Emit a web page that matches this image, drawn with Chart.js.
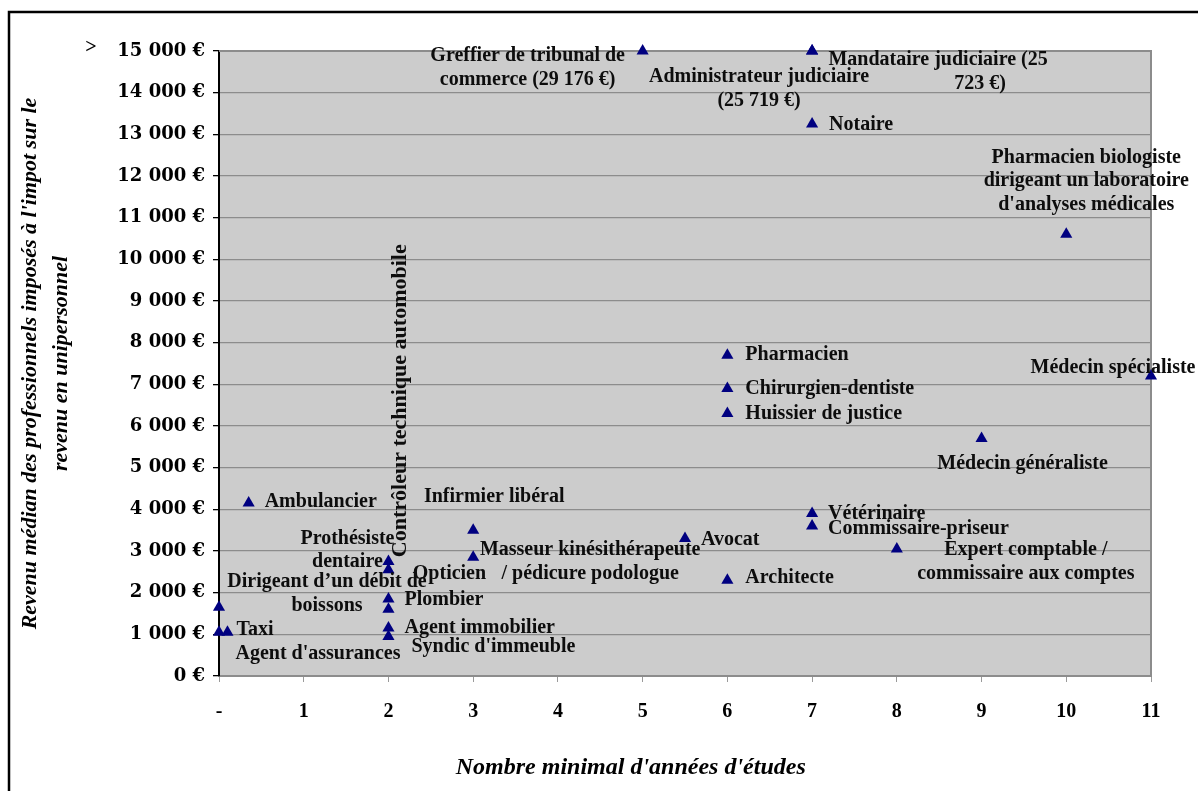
<!DOCTYPE html>
<html lang="fr">
<head>
<meta charset="utf-8">
<title>Revenu médian et années d'études</title>
<script src="https://cdn.jsdelivr.net/npm/chart.js@4.4.1/dist/chart.umd.min.js"></script>
<style>
  html, body { margin: 0; padding: 0; background: #fff; }
  canvas { display: block; }
</style>
</head>
<body>
<canvas id="chart" width="1198" height="791"></canvas>
<script>
// Professions (line breaks where the label wraps)
const professions = [
  "Greffier de tribunal de commerce",
  "Administrateur judiciaire",
  "Mandataire judiciaire",
  "Notaire",
  "Pharmacien biologiste\ndirigeant un laboratoire\nd'analyses médicales",
  "Médecin spécialiste",
  "Pharmacien",
  "Chirurgien-dentiste",
  "Huissier de justice",
  "Médecin généraliste",
  "Ambulancier",
  "Infirmier libéral",
  "Vétérinaire",
  "Commissaire-priseur",
  "Avocat",
  "Expert comptable /\ncommissaire aux comptes",
  "Masseur kinésithérapeute\n/ pédicure podologue",
  "Prothésiste\ndentaire",
  "Contrôleur technique automobile",
  "Opticien",
  "Plombier",
  "Architecte",
  "Dirigeant d’un débit de\nboissons",
  "Taxi",
  "Agent immobilier",
  "Syndic d'immeuble",
  "Agent d'assurances"
];

// Minimum number of years of study
const studyYears = [5, 7, 7, 7, 10, 11, 6, 6, 6, 9, 0.35, 3, 7, 7, 5.5, 8, 3, 2, 2, 2, 2, 6, 0, 0.1, 2, 2, 0];

// Median income (€)
const medianIncome = [29176, 25719, 25723, 13250, 10600, 7200, 7700, 6900, 6300, 5700, 4150, 3500, 3900, 3600,
                      3300, 3050, 2850, 2750, 2550, 1850, 1600, 2300, 1650, 1050, 1150, 950, 1050];

// Axis ranges and tick labels
const yCap = 15000;
const yStep = 1000;
const xMax = 11;
const xTickLabels = ["-", "1", "2", "3", "4", "5", "6", "7", "8", "9", "10", "11"];

// Label placement around each point (pixel offsets, alignment, wrapping)
const labelPlacement = [
  { dx: -115, dy: 5,   align: "center", wrap: 23 },
  { dx: -53,  dy: 26,  align: "center", wrap: 26 },
  { dx: 126,  dy: 9,   align: "center", wrap: 25, lineDx: [0, 42] },
  { dx: 17,   dy: 1,   align: "left" },
  { dx: 20,   dy: -77, align: "center" },
  { dx: -38,  dy: -8,  align: "center" },
  { dx: 18,   dy: 0,   align: "left" },
  { dx: 18,   dy: 0,   align: "left" },
  { dx: 18,   dy: 0,   align: "left" },
  { dx: 41,   dy: 25,  align: "center" },
  { dx: 16,   dy: -1,  align: "left" },
  { dx: 21,   dy: -33, align: "center" },
  { dx: 16,   dy: 0,   align: "left" },
  { dx: 16,   dy: 3,   align: "left" },
  { dx: 16,   dy: 1,   align: "left" },
  { dx: 129,  dy: 1,   align: "center" },
  { dx: 117,  dy: -7,  align: "center" },
  { dx: -41,  dy: -23, align: "center" },
  { dx: 12,   dy: -169, align: "center", vertical: true, size: 22 },
  { dx: 61,   dy: -25, align: "center" },
  { dx: 16,   dy: -10, align: "left" },
  { dx: 18,   dy: -2,  align: "left" },
  { dx: 108,  dy: -25, align: "center" },
  { dx: 9,    dy: -2,  align: "left" },
  { dx: 16,   dy: 0,   align: "left" },
  { dx: 23,   dy: 10,  align: "left" },
  { dx: 99,   dy: 22,  align: "center" }
];

const SERIF = '"Liberation Serif", "Times New Roman", serif';
const TITLE_FONT = { family: SERIF, size: 22, weight: "bold", style: "italic" };

function euro(v) {
  return String(v).replace(/\B(?=(\d{3})+(?!\d))/g, " ") + " €";
}

// Label text; values above the axis cap are written out in the label
function labelLines(i) {
  let text = professions[i];
  if (medianIncome[i] > yCap) text += " (" + euro(medianIncome[i]) + ")";
  const p = labelPlacement[i];
  if (p.wrap) return [text.slice(0, p.wrap).trim(), text.slice(p.wrap).trim()];
  return text.split("\n");
}

const points = studyYears.map((x, i) => ({ x: x, y: Math.min(medianIncome[i], yCap) }));

// Page frame, grey plot area
const backgroundPlugin = {
  id: "background",
  beforeDraw(chart) {
    const { ctx, chartArea: a } = chart;
    ctx.save();
    ctx.fillStyle = "#ffffff";
    ctx.fillRect(0, 0, chart.width, chart.height);
    ctx.strokeStyle = "#000000";
    ctx.lineWidth = 2.5;
    ctx.strokeRect(9, 12, chart.width + 40, chart.height + 40);
    ctx.fillStyle = "#cccccc";
    ctx.fillRect(a.left, a.top, a.right - a.left, a.bottom - a.top);
    ctx.restore();
  },
  beforeDatasetsDraw(chart) {
    const { ctx, chartArea: a } = chart;
    ctx.save();
    ctx.strokeStyle = "#8c8c8c";
    ctx.lineWidth = 2;
    ctx.beginPath();
    ctx.moveTo(a.left, a.top);
    ctx.lineTo(a.right, a.top);
    ctx.lineTo(a.right, a.bottom);
    ctx.stroke();
    ctx.restore();
  }
};

// Profession labels next to the markers, plus axis decorations
const labelsPlugin = {
  id: "professionLabels",
  afterDatasetsDraw(chart) {
    const ctx = chart.ctx;
    const meta = chart.getDatasetMeta(0);
    ctx.save();
    ctx.fillStyle = "#0d0d0d";
    ctx.textBaseline = "middle";
    const lh = 23.5;
    meta.data.forEach((pt, i) => {
      const p = labelPlacement[i];
      const lines = labelLines(i);
      const x = pt.x + p.dx;
      const y = pt.y + p.dy;
      ctx.font = "bold " + (p.size || 20) + "px " + SERIF;
      if (p.vertical) {
        ctx.save();
        ctx.translate(x, y);
        ctx.rotate(-Math.PI / 2);
        ctx.textAlign = "center";
        ctx.fillText(lines[0], 0, 0);
        ctx.restore();
        return;
      }
      ctx.textAlign = p.align;
      lines.forEach((line, k) => {
        const ox = p.lineDx ? p.lineDx[k] : 0;
        ctx.fillText(line, x + ox, y + k * lh);
      });
    });
    ctx.restore();
  },
  afterDraw(chart) {
    const ctx = chart.ctx;
    const yScale = chart.scales.y;
    const xScale = chart.scales.x;
    ctx.save();
    ctx.setTransform(1, 0, 0, 1, 0, 0);
    ctx.fillStyle = "#000";
    ctx.textBaseline = "middle";
    ctx.textAlign = "center";
    ctx.font = "bold 20px " + SERIF;
    ctx.fillText(">", 91, yScale.getPixelForValue(yCap) - 3);
    ctx.font = "italic bold 24px " + SERIF;
    ctx.fillText("Nombre minimal d'années d'études", xScale.getPixelForValue(4.86), 768);
    ctx.restore();
  }
};

new Chart(document.getElementById("chart"), {
  type: "scatter",
  data: {
    datasets: [{
      label: "Professions",
      data: points,
      pointStyle: "triangle",
      pointRadius: 7,
      pointHoverRadius: 7,
      backgroundColor: "#000080",
      borderColor: "#000080",
      borderWidth: 0,
      clip: false
    }]
  },
  options: {
    responsive: false,
    animation: false,
    events: [],
    layout: { padding: { left: 0, top: 51, right: 47, bottom: 0 } },
    plugins: { legend: { display: false }, tooltip: { enabled: false } },
    scales: {
      x: {
        type: "linear",
        min: 0,
        max: xMax,
        afterFit(scale) { scale.height = 115; },
        border: { color: "#8c8c8c", width: 2 },
        grid: { drawOnChartArea: false, color: "#8c8c8c", tickColor: "#9a9a9a", tickLength: 6 },
        ticks: {
          stepSize: 1,
          autoSkip: false,
          maxRotation: 0,
          padding: 18,
          color: "#000",
          font: { family: SERIF, size: 20, weight: "bold" },
          callback: (v) => xTickLabels[v]
        },
        title: { display: false }
      },
      y: {
        type: "linear",
        min: 0,
        max: yCap,
        afterFit(scale) { scale.width = 219; },
        border: { color: "#000000", width: 2 },
        grid: { color: "#8c8c8c", lineWidth: 1.3, tickColor: "#000", tickLength: 6 },
        ticks: {
          stepSize: yStep,
          padding: 8,
          color: "#000",
          font: { family: '"DejaVu Serif", serif', size: 18, weight: "bold" },
          callback: (v) => (v === 0 ? "0 €" : euro(v))
        },
        title: {
          display: true,
          text: ["Revenu médian des professionnels imposés à l'impot sur le", "revenu en unipersonnel"],
          color: "#000",
          font: Object.assign({ lineHeight: 1.41 }, TITLE_FONT),
          padding: { top: 15, bottom: 0 }
        }
      }
    }
  },
  plugins: [backgroundPlugin, labelsPlugin]
});
</script>
</body>
</html>
